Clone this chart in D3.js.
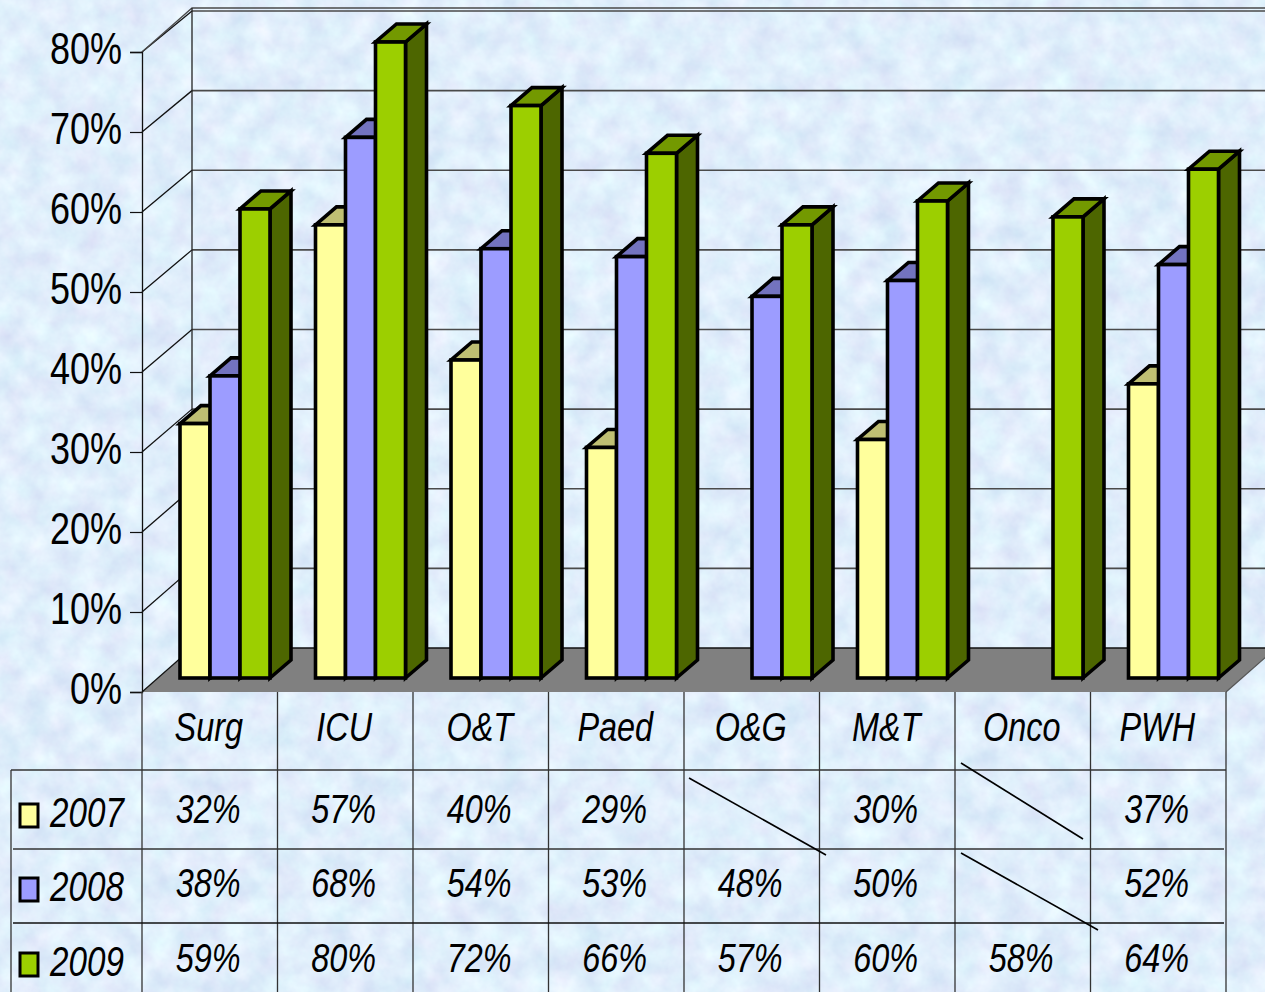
<!DOCTYPE html>
<html>
<head>
<meta charset="utf-8">
<style>
  html, body { margin: 0; padding: 0; background: #dfeafa; overflow: hidden; }
  text { font-family: "Liberation Sans", Arial, sans-serif; fill: #000; }
</style>
<script src="https://cdn.jsdelivr.net/npm/d3@7/dist/d3.min.js"></script>
</head>
<body>
<script>
const categories = ["Surg", "ICU", "O&T", "Paed", "O&G", "M&T", "Onco", "PWH"]
const years = ["2007", "2008", "2009"]
const values2007 = [32, 57, 40, 29, null, 30, null, 37]
const values2008 = [38, 68, 54, 53, 48, 50, null, 52]
const values2009 = [59, 80, 72, 66, 57, 60, 58, 64]
const yTicks = [0, 10, 20, 30, 40, 50, 60, 70, 80]

const series = [values2007, values2008, values2009]
const faceColors = ["#ffff9c", "#9c9cff", "#9ccf00"]
const topColors = ["#bfbf73", "#7373bf", "#739900"]
const sideColors = ["#99995c", "#5c5c99", "#4d6600"]

const w = 1265
const h = 992

// the floor and walls sit behind the front plane, bars stand halfway between
const depth = { x: 50, y: -43 }
const barDepth = { x: 21, y: -18 }

const x = d3.scaleBand().domain(categories).range([142, 1226])
const xBar = d3.scaleBand().domain(years).range([38, 128])
const yFront = d3.scaleLinear().domain([0, 80]).range([692, 52])
const yBack = d3.scaleLinear().domain([0, 80]).range([648, 11])
const yBar = d3.scaleLinear().domain([0, 80]).range([678, 42])

const rowY = { head: 692, 2007: 770, 2008: 849, 2009: 923 }
const rowBase = { 2007: 823, 2008: 897, 2009: 972 }

const svg = d3.select("body").append("svg")
    .attr("width", w)
    .attr("height", h)
    .style("display", "block")

// mottled paper background
let filter = svg.append("defs").append("filter")
    .attr("id", "paper")
    .attr("x", 0).attr("y", 0).attr("width", "100%").attr("height", "100%")
    .attr("color-interpolation-filters", "sRGB")
filter.append("feTurbulence")
    .attr("type", "fractalNoise")
    .attr("baseFrequency", 0.04)
    .attr("numOctaves", 4)
    .attr("seed", 7)
filter.append("feColorMatrix")
    .attr("type", "matrix")
    .attr("values", "0.14 0.05 0 0 0.785  0.13 -0.04 0 0 0.89  0.06 0 0 0 0.955  0 0 0 0 1")
svg.append("rect")
    .attr("width", w)
    .attr("height", h)
    .attr("filter", "url(#paper)")

// back wall and side wall
let walls = svg.append("g").attr("fill", "none").attr("stroke", "#4a4a4a")
walls.selectAll(".back-grid")
    .data(yTicks.slice(1))
    .enter()
    .append("line")
    .attr("class", "back-grid")
    .attr("x1", x.range()[0] + depth.x)
    .attr("x2", w)
    .attr("y1", d => yBack(d))
    .attr("y2", d => yBack(d))
    .attr("stroke-width", 1.6)
walls.selectAll(".side-grid")
    .data(yTicks.slice(1))
    .enter()
    .append("line")
    .attr("class", "side-grid")
    .attr("x1", x.range()[0])
    .attr("x2", x.range()[0] + depth.x)
    .attr("y1", d => yFront(d))
    .attr("y2", d => yBack(d))
    .attr("stroke", "#111")
    .attr("stroke-width", 1.3)
walls.append("path")
    .attr("d", `M${x.range()[0]},${yFront(80)}L${x.range()[0] + depth.x},${yBack(80) - 3}H${w}`)
    .attr("stroke-width", 1.3)
walls.append("line")
    .attr("x1", x.range()[0] + depth.x)
    .attr("x2", x.range()[0] + depth.x)
    .attr("y1", yBack(80) - 3)
    .attr("y2", yBack(0))
    .attr("stroke", "#222")
    .attr("stroke-width", 1.3)

// floor
svg.append("polygon")
    .attr("points", [
        [x.range()[0], yFront(0)],
        [x.range()[1], yFront(0)],
        [x.range()[1] + depth.x, yBack(0)],
        [x.range()[0] + depth.x, yBack(0)]
    ].join(" "))
    .attr("fill", "#808080")
svg.append("line")
    .attr("x1", x.range()[0] + depth.x)
    .attr("x2", w)
    .attr("y1", yBack(0))
    .attr("y2", yBack(0))
    .attr("stroke", "#111")
    .attr("stroke-width", 1.5)
svg.append("line")
    .attr("x1", x.range()[0])
    .attr("x2", x.range()[0] + depth.x)
    .attr("y1", yFront(0))
    .attr("y2", yBack(0))
    .attr("stroke", "#111")
    .attr("stroke-width", 1.2)
svg.append("line")
    .attr("x1", x.range()[1])
    .attr("x2", x.range()[1] + depth.x)
    .attr("y1", yFront(0))
    .attr("y2", yBack(0))
    .attr("stroke", "#555")
    .attr("stroke-width", 1.2)

// bars, left to right so that later boxes overlap earlier ones
let bars = []
categories.forEach((c, i) => {
    years.forEach((year, s) => {
        if (series[s][i] != null) bars.push({ category: c, year: year, s: s, value: series[s][i] })
    })
})
let bar = svg.append("g").selectAll("g")
    .data(bars)
    .enter()
    .append("g")
    .attr("stroke", "#000")
    .attr("stroke-width", 3.6)
    .attr("stroke-linejoin", "miter")
bar.append("polygon")
    .attr("fill", d => sideColors[d.s])
    .attr("points", d => {
        let r = x(d.category) + xBar(d.year) + xBar.bandwidth()
        return [[r, yBar(0)], [r + barDepth.x, yBar(0) + barDepth.y],
            [r + barDepth.x, yBar(d.value) + barDepth.y], [r, yBar(d.value)]].join(" ")
    })
bar.append("polygon")
    .attr("fill", d => topColors[d.s])
    .attr("points", d => {
        let l = x(d.category) + xBar(d.year)
        let r = l + xBar.bandwidth()
        let t = yBar(d.value)
        return [[l, t], [r, t], [r + barDepth.x, t + barDepth.y], [l + barDepth.x, t + barDepth.y]].join(" ")
    })
bar.append("rect")
    .attr("fill", d => faceColors[d.s])
    .attr("x", d => x(d.category) + xBar(d.year))
    .attr("y", d => yBar(d.value))
    .attr("width", xBar.bandwidth())
    .attr("height", d => yBar(0) - yBar(d.value))

// value axis on the front plane
let yAxis = d3.axisLeft(yFront)
    .tickValues(yTicks)
    .tickSize(12)
    .tickFormat(d => d + "%")
let axis = svg.append("g")
    .attr("transform", `translate(${x.range()[0]},0)`)
    .call(yAxis)
axis.select(".domain").attr("stroke", "#111").attr("stroke-width", 1.3)
axis.selectAll(".tick line").attr("stroke", "#111").attr("stroke-width", 1.2)
axis.selectAll(".tick text")
    .attr("font-family", "Liberation Sans")
    .attr("font-size", 45)
    .attr("x", -25)
    .attr("dy", "0.25em")
    .attr("transform", "scale(0.8,1)")

// data table grid
let table = svg.append("g").attr("stroke", "#333").attr("stroke-width", 1.3)
let edges = categories.map(c => x(c)).concat([x.range()[1]])
table.selectAll(".col")
    .data(edges)
    .enter()
    .append("line")
    .attr("class", "col")
    .attr("x1", d => d)
    .attr("x2", d => d)
    .attr("y1", rowY.head)
    .attr("y2", h)
table.append("line")
    .attr("x1", 11).attr("x2", x.range()[1])
    .attr("y1", rowY[2007]).attr("y2", rowY[2007])
table.append("line")
    .attr("x1", 13).attr("x2", x.range()[1] - 2)
    .attr("y1", rowY[2008]).attr("y2", rowY[2008])
table.append("line")
    .attr("x1", 13).attr("x2", x.range()[1] - 2)
    .attr("y1", rowY[2009]).attr("y2", rowY[2009])
    .attr("stroke", "#111")
table.append("line")
    .attr("x1", 11).attr("x2", 11)
    .attr("y1", rowY[2007]).attr("y2", h)

// squeezed italic text, placed by its centre
function cellText(g, text, cx, base, size) {
    return g.append("text")
        .attr("transform", `translate(${cx},${base}) scale(0.79,1)`)
        .attr("text-anchor", "middle")
        .attr("font-style", "italic")
        .attr("font-size", size)
        .text(text)
}

let labels = svg.append("g")
categories.forEach(c => {
    cellText(labels, c, x(c) + x.bandwidth() / 2 - 1, 741, 41)
})
years.forEach((year, s) => {
    categories.forEach((c, i) => {
        if (series[s][i] != null) {
            cellText(labels, series[s][i] + "%", x(c) + x.bandwidth() / 2 - 1.5, rowBase[year], 41)
        }
    })
})

// legend keys in the row headers
let legend = svg.append("g")
years.forEach((year, s) => {
    legend.append("rect")
        .attr("x", 20)
        .attr("y", rowBase[year] - 19)
        .attr("width", 18)
        .attr("height", 23)
        .attr("fill", faceColors[s])
        .attr("stroke", "#000")
        .attr("stroke-width", 3)
    cellText(legend, year, 87, rowBase[year] + 4, 42)
})

// empty cells are crossed out with a loose diagonal stroke
const strikes = [
    { category: "O&G", year: "2007", from: [5, 8], to: [142, 85] },
    { category: "Onco", year: "2007", from: [6, -7], to: [128, 69] },
    { category: "Onco", year: "2008", from: [6, 4], to: [143, 81] }
]
svg.append("g").selectAll("line")
    .data(strikes)
    .enter()
    .append("line")
    .attr("x1", d => x(d.category) + d.from[0])
    .attr("y1", d => rowY[d.year] + d.from[1])
    .attr("x2", d => x(d.category) + d.to[0])
    .attr("y2", d => rowY[d.year] + d.to[1])
    .attr("stroke", "#000")
    .attr("stroke-width", 1.6)
</script>
</body>
</html>
